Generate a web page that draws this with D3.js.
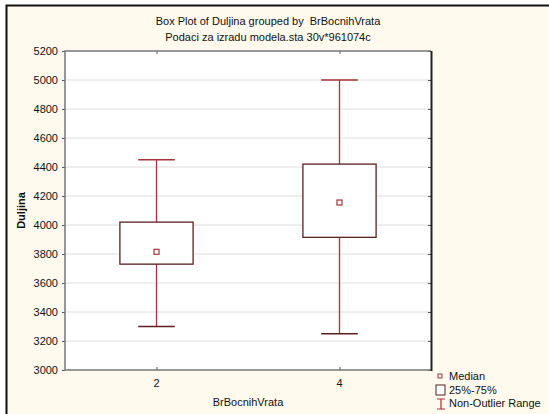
<!DOCTYPE html>
<html>
<head>
<meta charset="utf-8">
<script src="https://cdn.jsdelivr.net/npm/d3@7"></script>
<style>
  body { margin: 0; background: #fff; }
  text { font-family: "Liberation Sans", Arial, sans-serif; fill: #111; }
</style>
</head>
<body>
<div id="chart"></div>
<script>
const Width = 549;
const Height = 414;

// data
const groups = [2, 4];
const whiskerLow = [3300, 3250];
const boxLow = [3730, 3915];
const medians = [3815, 4155];
const boxHigh = [4020, 4420];
const whiskerHigh = [4450, 5000];
const yTicks = [3000, 3200, 3400, 3600, 3800, 4000, 4200, 4400, 4600, 4800, 5000, 5200];

const plot = { left: 65, right: 431, top: 51, bottom: 370 };

const svg = d3.select('#chart').
append('svg').
attr('width', Width).
attr('height', Height);

// window background + border
svg.append('rect').attr('x', 6).attr('y', 5).attr('width', Width).attr('height', Height).
attr('fill', '#fff9ee');
svg.append('path').attr('d', 'M6.5,' + Height + 'V5.5H' + Width).
attr('fill', 'none').attr('stroke', '#111').attr('stroke-width', 2);

const x = d3.scaleLinear().domain([1, 5]).range([plot.left, plot.right]);
const y = d3.scaleLinear().domain([3000, 5200]).range([plot.bottom, plot.top]);

// plot area
svg.append('rect').
attr('x', plot.left).attr('y', plot.top).
attr('width', plot.right - plot.left).attr('height', plot.bottom - plot.top).
attr('fill', '#fff');

// grid
svg.selectAll('.grid').
data(yTicks.slice(1, -1)).
enter().
append('line').
attr('x1', plot.left).attr('x2', plot.right).
attr('y1', d => y(d)).attr('y2', d => y(d)).
attr('stroke', '#dedede').attr('stroke-width', 1);

// axes
const yAxis = d3.axisLeft(y).tickValues(yTicks).tickSize(3).tickPadding(4).tickFormat(d3.format('d'));
const yAxisR = d3.axisLeft(y).tickValues(yTicks).tickSize(3).tickFormat('');
const xAxis = d3.axisTop(x).tickValues(groups).tickSize(3).tickFormat('');
const xAxisT = d3.axisBottom(x).tickValues(groups).tickSize(3).tickFormat('');

const gy = svg.append('g').attr('transform', 'translate(' + plot.left + ',0)').call(yAxis);
gy.select('.domain').remove();
gy.selectAll('line').attr('stroke', '#555');
gy.selectAll('text').style('font-size', '11px').attr('fill', '#1a1a30');

const gyr = svg.append('g').attr('transform', 'translate(' + plot.right + ',0)').call(yAxisR);
gyr.select('.domain').remove();
gyr.selectAll('line').attr('stroke', '#555');

const gx = svg.append('g').attr('transform', 'translate(0,' + plot.bottom + ')').call(xAxis);
gx.select('.domain').remove();
gx.selectAll('line').attr('stroke', '#555');

const gxt = svg.append('g').attr('transform', 'translate(0,' + plot.top + ')').call(xAxisT);
gxt.select('.domain').remove();
gxt.selectAll('line').attr('stroke', '#555');

svg.selectAll('.xlab').
data(groups).
enter().
append('text').
attr('x', d => x(d)).
attr('y', plot.bottom + 17).
attr('text-anchor', 'middle').
style('font-size', '11px').
attr('fill', '#1a1a30').
text(d => d);

// frame
svg.append('path').
attr('d', 'M' + plot.right + ',' + plot.top + 'H' + plot.left + 'V' + plot.bottom + 'H' + plot.right).
attr('fill', 'none').attr('stroke', '#777').attr('stroke-width', 1.5);
svg.append('line').
attr('x1', plot.right + 0.5).attr('x2', plot.right + 0.5).
attr('y1', plot.top).attr('y2', plot.bottom + 1).
attr('stroke', '#222').attr('stroke-width', 2);

// boxes
const boxW = 0.8;
const capW = 0.4;
const whiskerColor = '#a8323a';
const boxColor = '#5c1f22';

const bx = svg.selectAll('.box').
data(groups.map((g, i) => ({ g, wl: whiskerLow[i], bl: boxLow[i], m: medians[i], bh: boxHigh[i], wh: whiskerHigh[i] }))).
enter().
append('g');

bx.append('line').
attr('x1', d => x(d.g)).attr('x2', d => x(d.g)).
attr('y1', d => y(d.wh)).attr('y2', d => y(d.bh)).
attr('stroke', whiskerColor).attr('stroke-width', 1.3);
bx.append('line').
attr('x1', d => x(d.g)).attr('x2', d => x(d.g)).
attr('y1', d => y(d.bl)).attr('y2', d => y(d.wl)).
attr('stroke', whiskerColor).attr('stroke-width', 1.3);
bx.append('line').
attr('x1', d => x(d.g - capW / 2)).attr('x2', d => x(d.g + capW / 2)).
attr('y1', d => y(d.wh)).attr('y2', d => y(d.wh)).
attr('stroke', whiskerColor).attr('stroke-width', 1.5);
bx.append('line').
attr('x1', d => x(d.g - capW / 2)).attr('x2', d => x(d.g + capW / 2)).
attr('y1', d => y(d.wl)).attr('y2', d => y(d.wl)).
attr('stroke', boxColor).attr('stroke-width', 1.5);
bx.append('rect').
attr('x', d => x(d.g - boxW / 2)).
attr('y', d => y(d.bh)).
attr('width', d => x(d.g + boxW / 2) - x(d.g - boxW / 2)).
attr('height', d => y(d.bl) - y(d.bh)).
attr('fill', '#fff').attr('stroke', boxColor).attr('stroke-width', 1.3);
bx.append('rect').
attr('x', d => x(d.g) - 2.5).
attr('y', d => y(d.m) - 2.5).
attr('width', 5).attr('height', 5).
attr('fill', '#fff').attr('stroke', '#a8323a').attr('stroke-width', 1.2);

// titles
svg.append('text').attr('x', 268).attr('y', 25).attr('text-anchor', 'middle').
style('font-size', '11px').style('white-space', 'pre').
text('Box Plot of Duljina grouped by  BrBocnihVrata');
svg.append('text').attr('x', 268).attr('y', 41).attr('text-anchor', 'middle').
style('font-size', '11px').
text('Podaci za izradu modela.sta 30v*961074c');

svg.append('text').
attr('transform', 'translate(25,' + (plot.top + plot.bottom) / 2 + ') rotate(-90)').
attr('text-anchor', 'middle').
style('font-size', '11px').style('font-weight', 'bold').
text('Duljina');

svg.append('text').attr('x', (plot.left + plot.right) / 2).attr('y', 406).
attr('text-anchor', 'middle').style('font-size', '11px').
text('BrBocnihVrata');

// legend
const lx = 436;
svg.append('rect').attr('x', lx + 2).attr('y', 374).attr('width', 4).attr('height', 4).
attr('fill', '#fff').attr('stroke', whiskerColor).attr('stroke-width', 1);
svg.append('rect').attr('x', lx).attr('y', 385).attr('width', 9).attr('height', 10).
attr('fill', '#fff').attr('stroke', boxColor).attr('stroke-width', 1);
svg.append('path').attr('d', 'M' + (lx + 1) + ',399H' + (lx + 9) + 'M' + (lx + 5) + ',399V409M' + (lx + 1) + ',409H' + (lx + 9)).
attr('fill', 'none').attr('stroke', whiskerColor).attr('stroke-width', 1.2);

const legendText = ['Median', '25%-75%', 'Non-Outlier Range'];
svg.selectAll('.legtext').
data(legendText).
enter().
append('text').
attr('x', lx + 13).
attr('y', (d, i) => 380 + i * 13.5).
style('font-size', '11px').
text(d => d);
</script>
</body>
</html>
